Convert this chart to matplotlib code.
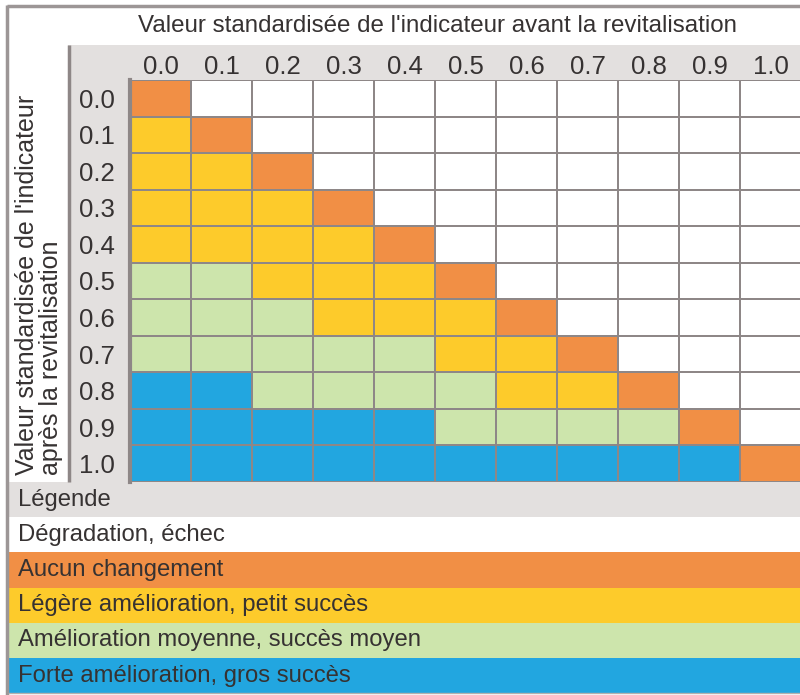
"""Matrice d'évaluation : indicateur avant / après la revitalisation."""
import matplotlib
matplotlib.use("Agg")
import matplotlib.pyplot as plt
import matplotlib.patches as mpatches
from matplotlib.colors import ListedColormap
import numpy as np

plt.rcParams['font.family'] = ['Liberation Sans', 'DejaVu Sans']

# ============================================================
# Data
# ============================================================
values = ['0.0', '0.1', '0.2', '0.3', '0.4', '0.5', '0.6', '0.7', '0.8', '0.9', '1.0']

# 0 = dégradation, 1 = aucun changement, 2 = légère, 3 = moyenne, 4 = forte
# rows = après (0.0 -> 1.0), columns = avant (0.0 -> 1.0)
classes = [
    [1, 0, 0, 0, 0, 0, 0, 0, 0, 0, 0],
    [2, 1, 0, 0, 0, 0, 0, 0, 0, 0, 0],
    [2, 2, 1, 0, 0, 0, 0, 0, 0, 0, 0],
    [2, 2, 2, 1, 0, 0, 0, 0, 0, 0, 0],
    [2, 2, 2, 2, 1, 0, 0, 0, 0, 0, 0],
    [3, 3, 2, 2, 2, 1, 0, 0, 0, 0, 0],
    [3, 3, 3, 2, 2, 2, 1, 0, 0, 0, 0],
    [3, 3, 3, 3, 3, 2, 2, 1, 0, 0, 0],
    [4, 4, 3, 3, 3, 3, 2, 2, 1, 0, 0],
    [4, 4, 4, 4, 4, 3, 3, 3, 3, 1, 0],
    [4, 4, 4, 4, 4, 4, 4, 4, 4, 4, 1],
]

legend_labels = [
    'Dégradation, échec',
    'Aucun changement',
    'Légère amélioration, petit succès',
    'Amélioration moyenne, succès moyen',
    'Forte amélioration, gros succès',
]
class_colors = ['#FFFFFF', '#F18F45', '#FDCB2B', '#CDE5AC', '#22A6E0']

title = "Valeur standardisée de l'indicateur avant la revitalisation"
ylabel = "Valeur standardisée de l'indicateur\naprès la revitalisation"

# ============================================================
# Plot
# ============================================================
W, H = 800, 695
band = '#E3E0DF'
line = '#8E8787'
txt = '#363232'

fig = plt.figure(figsize=(W / 100, H / 100), dpi=100)
fig.patch.set_facecolor('white')

# background layer in pixel coordinates
bg = fig.add_axes([0, 0, 1, 1])
bg.set_xlim(0, W)
bg.set_ylim(H, 0)
bg.axis('off')

# outer frame
bg.plot([7, 7], [5, H], color='#9C9696', lw=2.5, solid_capstyle='butt')
bg.plot([7, W], [6, 6], color='#9C9696', lw=2.5, solid_capstyle='butt')

# gray label bands
bg.add_patch(mpatches.Rectangle((68, 45), W - 68, 35, color=band, lw=0))
bg.add_patch(mpatches.Rectangle((68, 45), 62, 437, color=band, lw=0))
bg.plot([69, 69], [45, 482], color=line, lw=2.5, solid_capstyle='butt')

# legend rows
row_h = 35.2
top = 482
bg.add_patch(mpatches.Rectangle((9, top), W - 9, row_h, color=band, lw=0))
bg.text(18, top + row_h / 2, 'Légende', fontsize=17.2, color=txt, va='center', ha='left')
for i, (lab, col) in enumerate(zip(legend_labels, class_colors)):
    y0 = top + row_h * (i + 1)
    bg.add_patch(mpatches.Rectangle((9, y0), W - 9, row_h, color=col, lw=0))
    bg.text(18, y0 + row_h / 2, lab, fontsize=17.2, color=txt, va='center', ha='left')
bg.plot([9, W], [top + row_h * 6, top + row_h * 6], color='#B5B0AE', lw=1)

# titles
fig.text(438 / W, 1 - 26 / H, title, fontsize=17.4, color=txt, ha='center', va='center')
fig.text(39 / W, 1 - 475 / H, ylabel, fontsize=18, color=txt, rotation=90,
         ha='center', va='bottom', multialignment='left', linespacing=1.05)

# matrix
ax = fig.add_axes([130 / W, (H - 482) / H, 671 / W, 402 / H])
grid = np.array(classes)
cmap = ListedColormap(class_colors)
ax.pcolormesh(np.arange(12), np.arange(12), grid, cmap=cmap, vmin=-0.5, vmax=4.5,
              edgecolors=line, linewidth=1.4)
ax.set_xlim(0, 11)
ax.set_ylim(11, 0)
ax.set_xticks(np.arange(11) + 0.5)
ax.set_xticklabels(values)
ax.set_yticks(np.arange(11) + 0.5)
ax.set_yticklabels(values, ha='center')
ax.xaxis.tick_top()
ax.tick_params(axis='x', length=0, pad=1, labelsize=18.5, labelcolor=txt)
ax.tick_params(axis='y', length=0, pad=24, labelsize=18.5, labelcolor=txt)
for side in ['top', 'right', 'bottom']:
    ax.spines[side].set_visible(False)
ax.spines['left'].set_color(line)
ax.spines['left'].set_linewidth(3)

fig.savefig('out.png', dpi=100)
